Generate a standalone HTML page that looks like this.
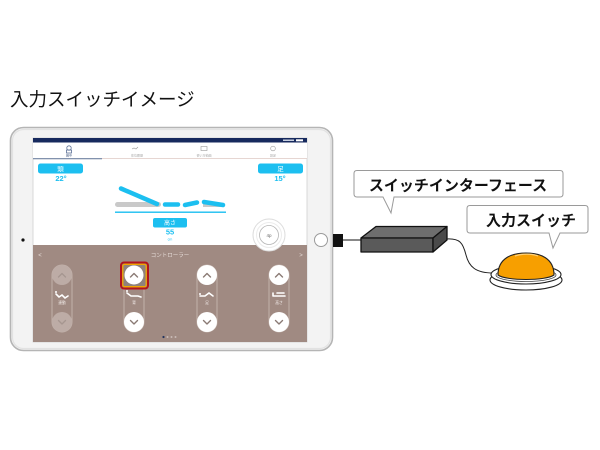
<!DOCTYPE html>
<html><head><meta charset="utf-8"><style>
html,body{margin:0;padding:0;background:#fff;}
svg{display:block;}
text{font-family:"Liberation Sans","Noto Sans CJK JP",sans-serif;}
</style></head><body>
<svg width="600" height="450" viewBox="0 0 600 450" xmlns="http://www.w3.org/2000/svg">
<rect width="600" height="450" fill="#fff"/>
<text x="10" y="106" font-size="18.5" fill="#111">入力スイッチイメージ</text>

<!-- tablet -->
<rect x="10.5" y="127.5" width="322" height="223" rx="13" fill="#f3f3f3" stroke="#b5b5b5" stroke-width="1.6"/>
<rect x="12.5" y="129.5" width="318" height="219" rx="11" fill="none" stroke="#e2e2e2" stroke-width="1.2"/>
<rect x="33" y="138" width="274" height="204" fill="#fff" stroke="#d0d0d0" stroke-width="0.8"/>
<circle cx="23" cy="240" r="1.6" fill="#111"/>
<circle cx="321" cy="240" r="6.5" fill="#fff" stroke="#9a9a9a" stroke-width="1"/>

<!-- status bar -->
<rect x="33" y="138" width="274" height="4.5" fill="#172a5e"/>
<rect x="296" y="139.3" width="7" height="2" fill="#fff"/>
<rect x="283" y="139.5" width="11" height="1.5" fill="#c8d0e0"/>
<!-- tab bar -->
<rect x="33" y="142.5" width="274" height="16" fill="#fff"/>
<g fill="none" stroke="#5a6f95" stroke-width="0.8">
<circle cx="69" cy="148" r="2.2"/><rect x="66.5" y="150" width="5" height="3"/>
</g>
<g fill="none" stroke="#999" stroke-width="0.6">
<path d="M132,149 l2,-1 l2,1 l2,-2"/>
<rect x="201" y="146.5" width="6" height="4"/>
<circle cx="273" cy="148.5" r="2.3"/>
</g>
<g fill="#aaa" font-size="3" text-anchor="middle">
<text x="69" y="156.5" fill="#4a5f85">暮中</text>
<text x="137" y="156.5">体位履歴</text>
<text x="204" y="156.5">使い方動画</text>
<text x="273" y="156.5">設定</text>
</g>
<rect x="33" y="158" width="69" height="1.3" fill="#8292ad"/>
<rect x="102" y="158" width="205" height="0.9" fill="#e3d2cd"/>

<!-- angle boxes -->
<rect x="38" y="163.5" width="45" height="10" rx="2.5" fill="#1cbff0"/>
<text x="60.5" y="171" font-size="6.5" fill="#fff" text-anchor="middle">頭</text>
<text x="61" y="181" font-size="7.5" font-weight="bold" fill="#1cbff0" text-anchor="middle">22°</text>
<rect x="258" y="163.5" width="45" height="10" rx="2.5" fill="#1cbff0"/>
<text x="280.5" y="171" font-size="6.5" fill="#fff" text-anchor="middle">足</text>
<text x="280" y="181" font-size="7.5" font-weight="bold" fill="#1cbff0" text-anchor="middle">15°</text>

<!-- bed graphic -->
<rect x="115" y="202" width="46" height="5" rx="2.5" fill="#c9c9c9"/>
<line x1="121" y1="188.5" x2="157" y2="204" stroke="#1cbff0" stroke-width="4.5" stroke-linecap="round"/>
<line x1="165" y1="204.5" x2="178" y2="204.5" stroke="#1cbff0" stroke-width="4.5" stroke-linecap="round"/>
<line x1="185" y1="205" x2="197" y2="202.5" stroke="#1cbff0" stroke-width="4.5" stroke-linecap="round"/>
<path d="M203,207 L203,203 L224,205.5 L224,207 Z" fill="#c9c9c9"/>
<line x1="204" y1="202" x2="223" y2="205" stroke="#1cbff0" stroke-width="4.5" stroke-linecap="round"/>
<rect x="115" y="211.5" width="111" height="1.4" fill="#1cbff0"/>
<rect x="153" y="218" width="34" height="9.5" rx="2" fill="#1cbff0"/>
<text x="170" y="225" font-size="6" fill="#fff" text-anchor="middle">高さ</text>
<text x="170" y="234.5" font-size="7.5" font-weight="bold" fill="#1cbff0" text-anchor="middle">55</text>
<text x="170" y="240.5" font-size="3.5" fill="#1cbff0" text-anchor="middle">cm</text>

<!-- controller -->
<rect x="33" y="245" width="274" height="97" fill="#a08a82"/>
<text x="170" y="257" font-size="5.5" fill="#e6dcd8" text-anchor="middle">コントローラー</text>
<text x="40" y="257" font-size="6" fill="#e6dcd8" text-anchor="middle">&lt;</text>
<text x="301" y="257" font-size="6" fill="#e6dcd8" text-anchor="middle">&gt;</text>

<!-- 4p button -->
<circle cx="269" cy="235" r="16" fill="#fff" stroke="#dcdcdc" stroke-width="1"/>
<circle cx="269" cy="235" r="12.5" fill="none" stroke="#ececec" stroke-width="1"/>
<circle cx="269" cy="235" r="9.5" fill="#fff" stroke="#b5b5b5" stroke-width="0.8"/>
<text x="269" y="237" font-size="4.5" fill="#666" text-anchor="middle">4p</text>

<!-- pills -->
<g fill="none" stroke="#c2b2ab" stroke-width="1">
<rect x="52" y="265" width="20" height="67" rx="10"/>
<rect x="124" y="265" width="20" height="67" rx="10"/>
<rect x="197" y="265" width="20" height="67" rx="10"/>
<rect x="269" y="265" width="20" height="67" rx="10"/>
</g>
<!-- highlight -->
<rect x="121" y="262.5" width="27" height="26" rx="3" fill="#8f817c" stroke="#b3141c" stroke-width="2"/>
<rect x="122.8" y="264.3" width="23.4" height="22.4" rx="2" fill="none" stroke="#f2a600" stroke-width="1.3"/>
<!-- circles -->
<g fill="#bdaca6">
<circle cx="62" cy="275" r="10"/><circle cx="62" cy="322" r="10"/>
</g>
<g fill="#fff">
<circle cx="134" cy="275" r="9.5"/><circle cx="134" cy="322" r="10"/>
<circle cx="207" cy="275" r="10"/><circle cx="207" cy="322" r="10"/>
<circle cx="279" cy="275" r="10"/><circle cx="279" cy="322" r="10"/>
</g>
<g fill="none" stroke-width="1.4" stroke-linecap="round" stroke-linejoin="round">
<path d="M58.5,277 l3.5,-3.5 l3.5,3.5 M58.5,320.5 l3.5,3.5 l3.5,-3.5" stroke="#a69690"/>
<path d="M130.5,277 l3.5,-3.5 l3.5,3.5 M130.5,320.5 l3.5,3.5 l3.5,-3.5" stroke="#8a7a74"/>
<path d="M203.5,277 l3.5,-3.5 l3.5,3.5 M203.5,320.5 l3.5,3.5 l3.5,-3.5" stroke="#8a7a74"/>
<path d="M275.5,277 l3.5,-3.5 l3.5,3.5 M275.5,320.5 l3.5,3.5 l3.5,-3.5" stroke="#8a7a74"/>
</g>
<!-- icons -->
<g fill="none" stroke="#fff" stroke-width="1.6" stroke-linecap="round">
<path d="M56,294 l3,3 l3,-2 l3,3 l3,-2"/>
<path d="M127,293 l4,3 l7,0 l3,1"/>
<path d="M200,296 l5,0 l4,-3 l4,3"/>
<path d="M273,296 l12,0 M273,293 l0,3 M277,293 l7,0"/>
</g>
<g fill="#fff">
<circle cx="56" cy="292" r="1"/><circle cx="127" cy="291" r="1"/><circle cx="200" cy="294" r="1"/>
</g>
<g fill="#f2ece9" font-size="3.8" text-anchor="middle">
<text x="62" y="304">連動</text>
<text x="134" y="304">背</text>
<text x="207" y="304">足</text>
<text x="279" y="304">高さ</text>
</g>
<!-- page dots -->
<circle cx="163.5" cy="337" r="1.1" fill="#22345e"/>
<circle cx="167.5" cy="337" r="1" fill="#c8bbb6"/>
<circle cx="171.5" cy="337" r="1" fill="#c8bbb6"/>
<circle cx="175.5" cy="337" r="1" fill="#c8bbb6"/>

<!-- plug & wire -->
<rect x="333" y="234" width="10" height="13" fill="#111"/>
<line x1="343" y1="240" x2="363" y2="240" stroke="#111" stroke-width="1"/>

<!-- interface box -->
<polygon points="361,238 376,226.5 447,226.5 433,238" fill="#6e6e6e" stroke="#111" stroke-width="1.3" stroke-linejoin="round"/>
<polygon points="361,238 433,238 433,252 361,252" fill="#5a5a5a" stroke="#111" stroke-width="1.3" stroke-linejoin="round"/>
<polygon points="433,238 447,226.5 447,240 433,252" fill="#4a4a4a" stroke="#111" stroke-width="1.3" stroke-linejoin="round"/>

<!-- cable -->
<path d="M446,239 C460,238 463,243 466,255 C469,267 476,273 493,273" fill="none" stroke="#222" stroke-width="1"/>

<!-- button -->
<ellipse cx="526" cy="280" rx="36" ry="10" fill="#fff" stroke="#222" stroke-width="1.1"/>
<ellipse cx="526" cy="274.5" rx="35" ry="9.5" fill="#fff" stroke="#222" stroke-width="1.1"/>
<ellipse cx="526" cy="275" rx="30" ry="6.5" fill="#fff" stroke="#444" stroke-width="0.8"/>
<path d="M498,275 C498,258 512,253 526,253 C540,253 554,258 554,275 C546,281 506,281 498,275 Z" fill="#f79f00" stroke="#222" stroke-width="1.1"/>
<path d="M515,256 C522,253.5 532,253.5 538,256" fill="none" stroke="#ffd27a" stroke-width="1.2"/>

<!-- bubble 1 -->
<path d="M357,170.5 H560 Q563,170.5 563,173.5 V194 Q563,197 560,197 H394 L391,213 L383,197 H357 Q354,197 354,194 V173.5 Q354,170.5 357,170.5 Z" fill="#fff" stroke="#9a9a9a" stroke-width="1"/>
<text x="458" y="190.5" font-size="15" font-weight="bold" fill="#111" text-anchor="middle">スイッチインターフェース</text>

<!-- bubble 2 -->
<path d="M470,205.5 H585 Q588,205.5 588,208.5 V230 Q588,233 585,233 H560 L553,248 L549,233 H470 Q467,233 467,230 V208.5 Q467,205.5 470,205.5 Z" fill="#fff" stroke="#9a9a9a" stroke-width="1"/>
<text x="531" y="225.5" font-size="15" font-weight="bold" fill="#111" text-anchor="middle">入力スイッチ</text>
</svg>
</body></html>
